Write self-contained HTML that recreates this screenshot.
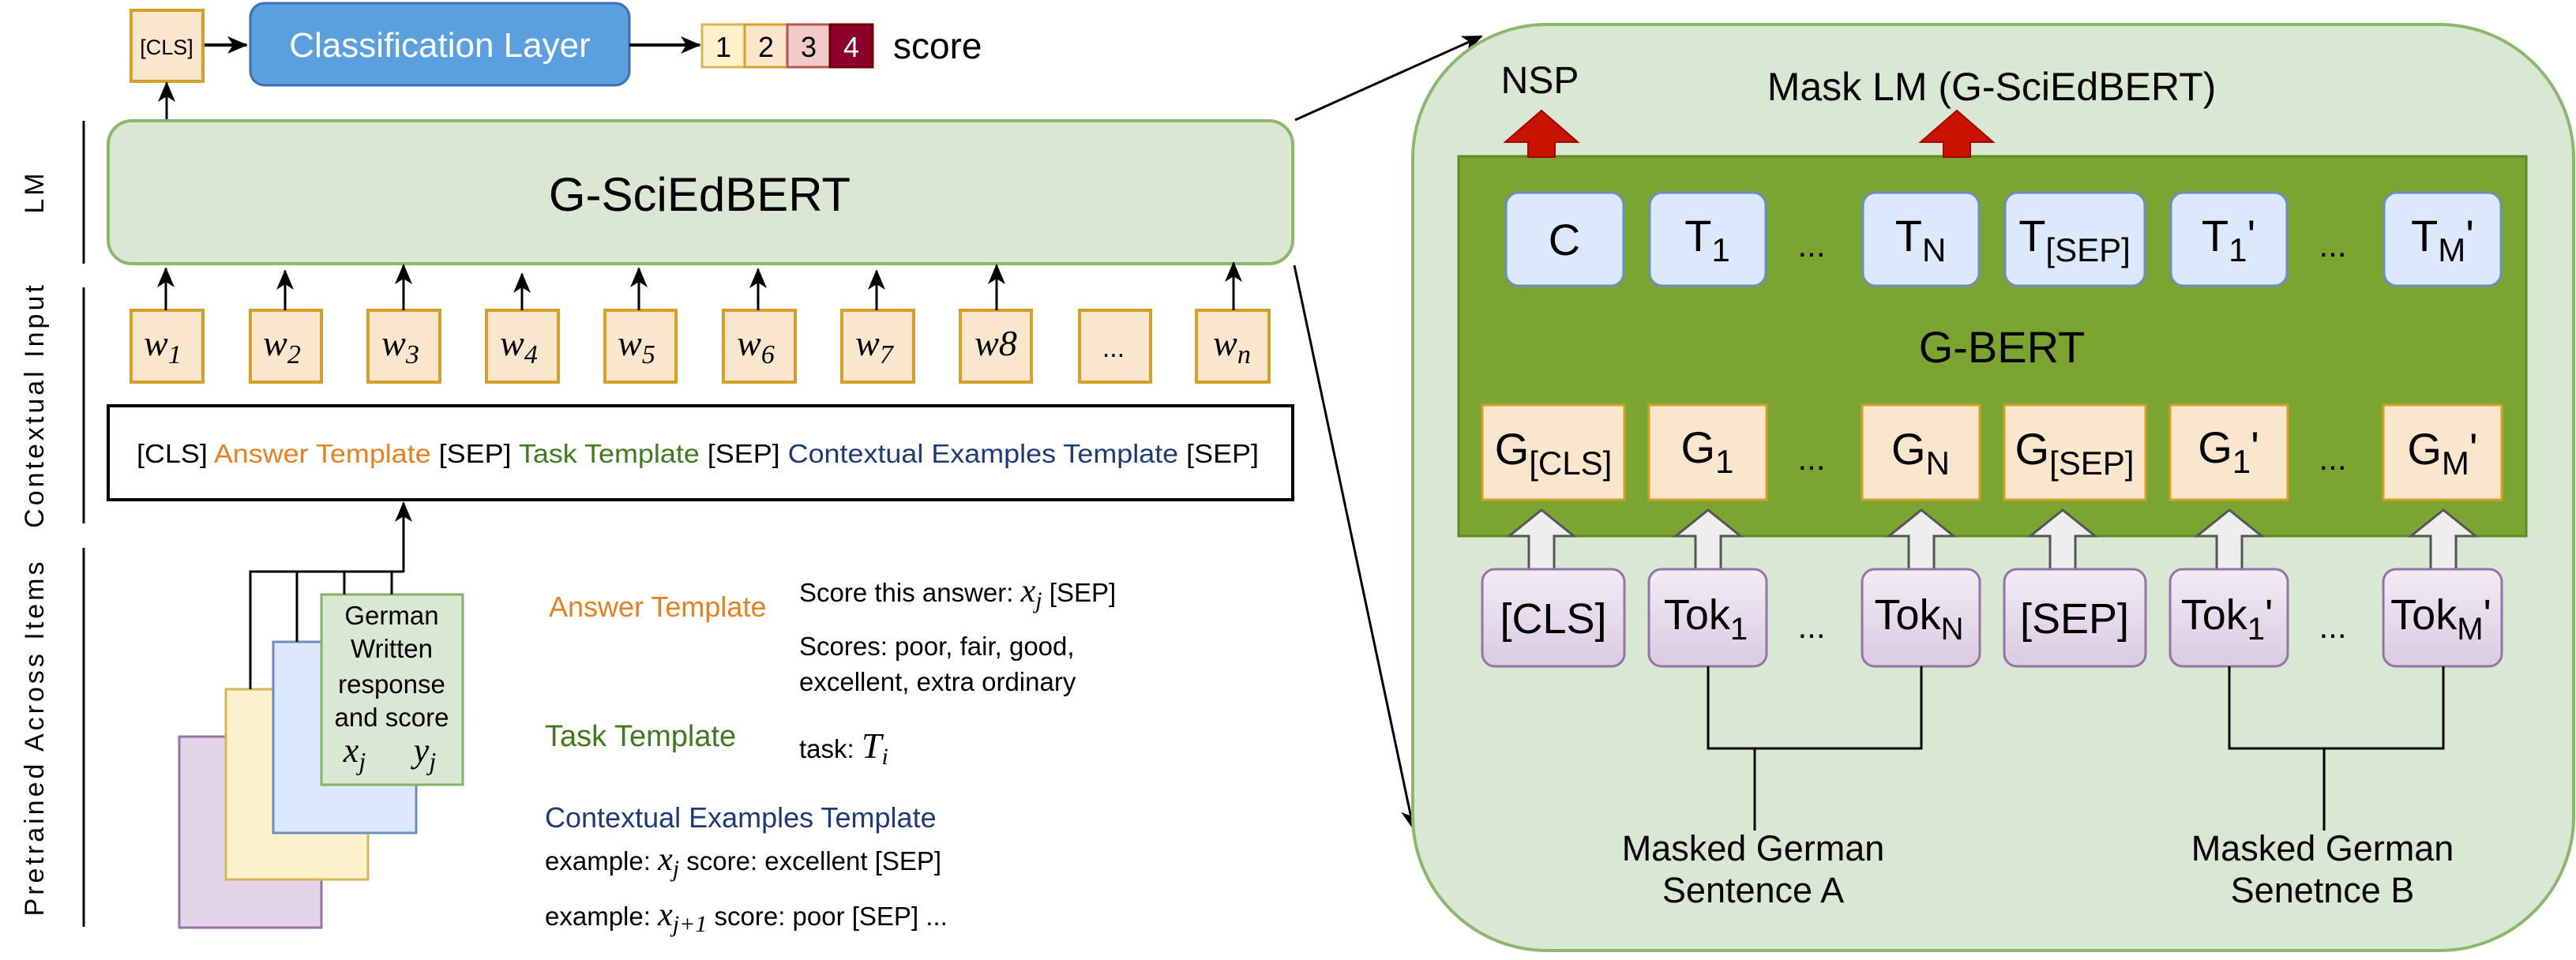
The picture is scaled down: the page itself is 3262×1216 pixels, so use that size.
<!DOCTYPE html>
<html><head><meta charset="utf-8"><style>
html,body{margin:0;padding:0;background:#fff;}
svg{display:block;}
text{font-family:"Liberation Sans",Arial,sans-serif;}
.m{font-family:"Liberation Serif","DejaVu Serif",serif;font-style:italic;}
</style></head><body>
<svg width="3262" height="1216" viewBox="0 0 3262 1216" xmlns="http://www.w3.org/2000/svg">
<defs>
<marker id="ahb" markerWidth="26" markerHeight="26" refX="24" refY="13" orient="auto" markerUnits="userSpaceOnUse">
<path d="M0,2 L26,13 L0,24 L7,13 Z" fill="#000"/></marker>
<linearGradient id="pg" x1="0" y1="0" x2="0" y2="1"><stop offset="0" stop-color="#f2ecf5"/><stop offset="1" stop-color="#d9cbe1"/></linearGradient>
</defs>

<!-- top row -->
<rect x="166" y="13" width="91" height="90" fill="#fae6cc" stroke="#d4a126" stroke-width="4"/>
<text x="211" y="69" font-size="27" text-anchor="middle">[CLS]</text>
<line x1="259" y1="57" x2="312" y2="57" stroke="#000" stroke-width="4" marker-end="url(#ahb)"/>
<rect x="317" y="4" width="480" height="104" rx="18" fill="#5ba0de" stroke="#3d6fb5" stroke-width="3"/>
<text x="557" y="72" font-size="44" fill="#fff" text-anchor="middle">Classification Layer</text>
<line x1="797" y1="57" x2="886" y2="57" stroke="#000" stroke-width="4" marker-end="url(#ahb)"/>
<rect x="889" y="31" width="54" height="54" fill="#fdf1cb" stroke="#d6b656" stroke-width="3"/>
<rect x="943" y="31" width="54" height="54" fill="#fbe5cb" stroke="#d4a126" stroke-width="3"/>
<rect x="997" y="31" width="54" height="54" fill="#f0c9c8" stroke="#b85450" stroke-width="3"/>
<rect x="1051" y="31" width="54" height="54" fill="#8c0029" stroke="#6f0000" stroke-width="3"/>
<text x="916" y="72" font-size="36" text-anchor="middle">1</text>
<text x="970" y="72" font-size="36" text-anchor="middle">2</text>
<text x="1024" y="72" font-size="36" text-anchor="middle">3</text>
<text x="1078" y="72" font-size="36" text-anchor="middle" fill="#fff">4</text>
<text x="1131" y="74" font-size="46">score</text>

<!-- left labels -->
<line x1="106" y1="153" x2="106" y2="334" stroke="#000" stroke-width="3"/>
<line x1="106" y1="364" x2="106" y2="663" stroke="#000" stroke-width="3"/>
<line x1="106" y1="694" x2="106" y2="1174" stroke="#000" stroke-width="3"/>
<text transform="translate(55,243) rotate(-90)" font-size="34" text-anchor="middle" letter-spacing="4">LM</text>
<text transform="translate(55,513) rotate(-90)" font-size="34" text-anchor="middle" letter-spacing="4">Contextual Input</text>
<text transform="translate(55,934) rotate(-90)" font-size="34" text-anchor="middle" letter-spacing="4">Pretrained Across Items</text>

<!-- G-SciEdBERT -->
<line x1="211" y1="155" x2="211" y2="105" stroke="#000" stroke-width="3" marker-end="url(#ahb)"/>
<rect x="137" y="153" width="1500" height="181" rx="30" fill="#dae8d3" stroke="#8cb86e" stroke-width="4"/>
<text x="886" y="267" font-size="60" text-anchor="middle">G-SciEdBERT</text>

<!-- w boxes -->
<g fill="#fae6cc" stroke="#d4a126" stroke-width="4">
<rect x="166" y="393" width="91" height="91"/><rect x="317" y="393" width="90" height="91"/>
<rect x="466" y="393" width="91" height="91"/><rect x="616" y="393" width="91" height="91"/>
<rect x="766" y="393" width="90" height="91"/><rect x="916" y="393" width="91" height="91"/>
<rect x="1066" y="393" width="91" height="91"/><rect x="1216" y="393" width="90" height="91"/>
<rect x="1367" y="393" width="90" height="91"/><rect x="1515" y="393" width="92" height="91"/>
</g>
<g stroke="#000" stroke-width="3">
<line x1="210" y1="393" x2="210" y2="340" marker-end="url(#ahb)"/>
<line x1="361" y1="393" x2="361" y2="343" marker-end="url(#ahb)"/>
<line x1="511" y1="393" x2="511" y2="336" marker-end="url(#ahb)"/>
<line x1="661" y1="393" x2="661" y2="347" marker-end="url(#ahb)"/>
<line x1="809" y1="393" x2="809" y2="340" marker-end="url(#ahb)"/>
<line x1="960" y1="393" x2="960" y2="341" marker-end="url(#ahb)"/>
<line x1="1110" y1="393" x2="1110" y2="343" marker-end="url(#ahb)"/>
<line x1="1262" y1="393" x2="1262" y2="336" marker-end="url(#ahb)"/>
<line x1="1562" y1="393" x2="1562" y2="333" marker-end="url(#ahb)"/>
</g>
<g font-size="46" class="m" text-anchor="middle">
<text x="206" y="450" class="m">w<tspan font-size="34" dy="10">1</tspan></text>
<text x="357" y="450" class="m">w<tspan font-size="34" dy="10">2</tspan></text>
<text x="507" y="450" class="m">w<tspan font-size="34" dy="10">3</tspan></text>
<text x="657" y="450" class="m">w<tspan font-size="34" dy="10">4</tspan></text>
<text x="806" y="450" class="m">w<tspan font-size="34" dy="10">5</tspan></text>
<text x="957" y="450" class="m">w<tspan font-size="34" dy="10">6</tspan></text>
<text x="1107" y="450" class="m">w<tspan font-size="34" dy="10">7</tspan></text>
<text x="1261" y="450" class="m">w8</text>
<text x="1410" y="452" font-size="34" style="font-style:normal">...</text>
<text x="1560" y="450" class="m">w<tspan font-size="34" dy="10">n</tspan></text>
</g>

<!-- template box -->
<rect x="137" y="514" width="1500" height="119" fill="#fff" stroke="#000" stroke-width="4"/>
<text x="173" y="586" font-size="33" textLength="1421" lengthAdjust="spacingAndGlyphs">[CLS] <tspan fill="#e8801f">Answer Template</tspan> [SEP] <tspan fill="#3f7a1c">Task Template</tspan> [SEP] <tspan fill="#1e3a78">Contextual Examples Template</tspan> [SEP]</text>

<!-- stacked cards -->
<rect x="227" y="933" width="180" height="242" fill="#e1d5e7" stroke="#9673a6" stroke-width="3"/>
<rect x="286" y="873" width="180" height="241" fill="#fbf1cc" stroke="#d6b656" stroke-width="3"/>
<rect x="346" y="813" width="181" height="242" fill="#dce8fb" stroke="#6c8ebf" stroke-width="3"/>
<rect x="407" y="753" width="179" height="241" fill="#d8e8d3" stroke="#82b366" stroke-width="3"/>
<g stroke="#000" stroke-width="3" fill="none">
<polyline points="317,873 317,724 511,724"/>
<line x1="376" y1="813" x2="376" y2="724"/>
<line x1="436" y1="753" x2="436" y2="724"/>
<line x1="496" y1="753" x2="496" y2="724"/>
<line x1="511" y1="725" x2="511" y2="637" marker-end="url(#ahb)"/>
</g>
<g font-size="33" text-anchor="middle">
<text x="496" y="791">German</text>
<text x="496" y="833">Written</text>
<text x="496" y="878">response</text>
<text x="496" y="920">and score</text>
<text x="449" y="965" font-size="44" class="m">x<tspan font-size="32" dy="10">j</tspan></text>
<text x="538" y="965" font-size="44" class="m">y<tspan font-size="32" dy="10">j</tspan></text>
</g>

<!-- template descriptions -->
<g font-size="33">
<text x="695" y="781" fill="#e8801f" font-size="36">Answer Template</text>
<text x="1012" y="762">Score this answer: <tspan class="m" font-size="42">x</tspan><tspan class="m" font-size="30" dy="8">j</tspan><tspan dy="-8"> [SEP]</tspan></text>
<text x="1012" y="830">Scores: poor, fair, good,</text>
<text x="1012" y="875">excellent, extra ordinary</text>
<text x="690" y="945" fill="#3f7a1c" font-size="38">Task Template</text>
<text x="1012" y="960">task: <tspan class="m" font-size="46">T</tspan><tspan class="m" font-size="30" dy="8">i</tspan></text>
<text x="690" y="1048" fill="#1e3a78" font-size="36">Contextual Examples Template</text>
<text x="690" y="1102">example: <tspan class="m" font-size="42">x</tspan><tspan class="m" font-size="30" dy="8">j</tspan><tspan dy="-8"> score: excellent [SEP]</tspan></text>
<text x="690" y="1172">example: <tspan class="m" font-size="42">x</tspan><tspan class="m" font-size="30" dy="8">j+1</tspan><tspan dy="-8"> score: poor [SEP] ...</tspan></text>
</g>

<!-- connectors to right panel -->
<line x1="1640" y1="152" x2="1876" y2="46" stroke="#000" stroke-width="3" marker-end="url(#ahb)"/>
<line x1="1639" y1="336" x2="1790" y2="1050" stroke="#000" stroke-width="3" marker-end="url(#ahb)"/>

<!-- right panel -->
<rect x="1789" y="31" width="1470" height="1173" rx="170" fill="#d9e8d3" stroke="#8cb86e" stroke-width="4"/>
<text x="1950" y="118" font-size="48" text-anchor="middle">NSP</text>
<text x="2522" y="127" font-size="50" text-anchor="middle">Mask LM (G-SciEdBERT)</text>
<rect x="1847" y="198" width="1352" height="481" fill="#7aa531" stroke="#5d8a22" stroke-width="3"/>
<g fill="#c81400" stroke="#a80000" stroke-width="2">
<path d="M1952,140 L1998,180 L1969,180 L1969,199 L1935,199 L1935,180 L1906,180 Z"/>
<path d="M2478,140 L2524,180 L2495,180 L2495,199 L2461,199 L2461,180 L2432,180 Z"/>
</g>

<g fill="#dce8fb" stroke="#6c8ebf" stroke-width="3">
<rect x="1907" y="244" width="149" height="118" rx="16"/>
<rect x="2089" y="244" width="147" height="118" rx="16"/>
<rect x="2359" y="244" width="147" height="118" rx="16"/>
<rect x="2539" y="244" width="177" height="118" rx="16"/>
<rect x="2749" y="244" width="147" height="118" rx="16"/>
<rect x="3019" y="244" width="148" height="118" rx="16"/>
</g>
<g font-size="56" text-anchor="middle">
<text x="1981" y="323">C</text>
<text x="2162" y="318">T<tspan font-size="42" dy="13">1</tspan></text>
<text x="2294" y="325" font-size="42">...</text>
<text x="2432" y="318">T<tspan font-size="42" dy="13">N</tspan></text>
<text x="2627" y="318">T<tspan font-size="42" dy="13">[SEP]</tspan></text>
<text x="2822" y="318">T<tspan font-size="42" dy="13">1</tspan><tspan dy="-13">'</tspan></text>
<text x="2954" y="325" font-size="42">...</text>
<text x="3093" y="318">T<tspan font-size="42" dy="13">M</tspan><tspan dy="-13">'</tspan></text>
</g>
<text x="2535" y="459" font-size="56" text-anchor="middle">G-BERT</text>

<g fill="#fae6cc" stroke="#d4a126" stroke-width="3">
<rect x="1877" y="513" width="180" height="120"/>
<rect x="2088" y="513" width="149" height="120"/>
<rect x="2358" y="513" width="149" height="120"/>
<rect x="2538" y="513" width="179" height="120"/>
<rect x="2748" y="513" width="149" height="120"/>
<rect x="3018" y="513" width="150" height="120"/>
</g>
<g font-size="56" text-anchor="middle">
<text x="1967" y="588">G<tspan font-size="42" dy="13">[CLS]</tspan></text>
<text x="2162" y="586">G<tspan font-size="42" dy="13">1</tspan></text>
<text x="2294" y="595" font-size="42">...</text>
<text x="2432" y="588">G<tspan font-size="42" dy="13">N</tspan></text>
<text x="2627" y="588">G<tspan font-size="42" dy="13">[SEP]</tspan></text>
<text x="2822" y="586">G<tspan font-size="42" dy="13">1</tspan><tspan dy="-13">'</tspan></text>
<text x="2954" y="595" font-size="42">...</text>
<text x="3093" y="588">G<tspan font-size="42" dy="13">M</tspan><tspan dy="-13">'</tspan></text>
</g>

<!-- hollow arrows -->
<g fill="#eeeeee" stroke="#555" stroke-width="3">
<path d="M1952,646 L1993,679 L1968,679 L1968,721 L1936,721 L1936,679 L1911,679 Z"/>
<path d="M2163,646 L2204,679 L2179,679 L2179,721 L2147,721 L2147,679 L2122,679 Z"/>
<path d="M2433,646 L2474,679 L2449,679 L2449,721 L2417,721 L2417,679 L2392,679 Z"/>
<path d="M2612,646 L2653,679 L2628,679 L2628,721 L2596,721 L2596,679 L2571,679 Z"/>
<path d="M2823,646 L2864,679 L2839,679 L2839,721 L2807,721 L2807,679 L2782,679 Z"/>
<path d="M3094,646 L3135,679 L3110,679 L3110,721 L3078,721 L3078,679 L3053,679 Z"/>
</g>

<g fill="url(#pg)" stroke="#9673a6" stroke-width="3">
<rect x="1877" y="721" width="180" height="123" rx="16"/>
<rect x="2088" y="721" width="149" height="123" rx="16"/>
<rect x="2358" y="721" width="149" height="123" rx="16"/>
<rect x="2538" y="721" width="179" height="123" rx="16"/>
<rect x="2748" y="721" width="149" height="123" rx="16"/>
<rect x="3018" y="721" width="150" height="123" rx="16"/>
</g>
<g font-size="54" text-anchor="middle">
<text x="1967" y="802">[CLS]</text>
<text x="2160" y="797">Tok<tspan font-size="40" dy="13">1</tspan></text>
<text x="2294" y="808" font-size="42">...</text>
<text x="2430" y="797">Tok<tspan font-size="40" dy="13">N</tspan></text>
<text x="2627" y="802">[SEP]</text>
<text x="2820" y="797">Tok<tspan font-size="40" dy="13">1</tspan><tspan dy="-13">'</tspan></text>
<text x="2954" y="808" font-size="42">...</text>
<text x="3091" y="797">Tok<tspan font-size="40" dy="13">M</tspan><tspan dy="-13">'</tspan></text>
</g>

<g stroke="#000" stroke-width="3" fill="none">
<polyline points="2163,844 2163,948 2433,948 2433,844"/>
<line x1="2222" y1="948" x2="2222" y2="1052"/>
<polyline points="2823,844 2823,948 3094,948 3094,844"/>
<line x1="2943" y1="948" x2="2943" y2="1052"/>
</g>
<g font-size="45" text-anchor="middle">
<text x="2220" y="1090">Masked German</text>
<text x="2220" y="1143">Sentence A</text>
<text x="2941" y="1090">Masked German</text>
<text x="2941" y="1143">Senetnce B</text>
</g>
</svg>
</body></html>
